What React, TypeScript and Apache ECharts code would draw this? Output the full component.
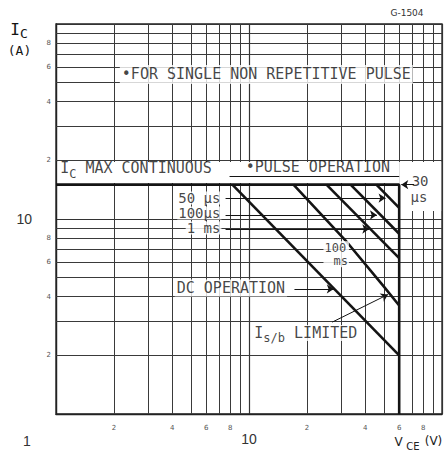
import React, { useEffect, useRef } from "react";
import * as echarts from "echarts";

// Minor grid steps inside each decade and the digits printed beside them
const DECADE_STEPS = [2, 3, 4, 5, 6, 7, 8, 9, 20, 30, 40, 50, 60, 70, 80, 90];
const STEP_LABELS: Record<number, string> = { 2: "2", 4: "4", 6: "6", 8: "8", 20: "2", 40: "4", 60: "6", 80: "8" };

// Safe operating area limits, points are [VCE (V), IC (A)]
const boundary = [[1, 15], [60, 15], [60, 1]];
const dcOperation = [[8.2, 15], [60, 2]];
const pulse100ms = [[17, 15], [31.5, 7.8], [50, 4.5], [60, 3.6]];
const pulse1ms = [[25.2, 15], [60, 6.3]];
const pulse100us = [[33.6, 15], [60, 8.4]];
const pulse50us = [[45.7, 15], [60, 11.4]];

const MONO = '"DejaVu Sans Mono", monospace';
const SANS = '"DejaVu Sans", sans-serif';
const INK = "#141414";

function buildOption() {
  const gridMarks = [
    ...DECADE_STEPS.map((v) => ({
      xAxis: v,
      label: { show: !!STEP_LABELS[v], formatter: STEP_LABELS[v] || "", distance: 10 },
    })),
    ...DECADE_STEPS.map((v) => ({
      yAxis: v,
      label: { show: !!STEP_LABELS[v], formatter: STEP_LABELS[v] || "", distance: 5 },
    })),
  ];

  const curve = (name: string, data: number[][]) => ({
    name,
    type: "line",
    data,
    symbol: "none",
    silent: true,
    z: 3,
    lineStyle: { color: INK, width: 2.6 },
  });

  const rich = {
    t: { fontFamily: MONO, fontSize: 15, color: INK, lineHeight: 16, verticalAlign: "top" },
    s: { fontFamily: MONO, fontSize: 12, color: INK, lineHeight: 12, padding: [7, 0, 0, 0], verticalAlign: "top" },
    n: { fontFamily: MONO, fontSize: 12, color: INK, lineHeight: 13, align: "left" },
    m: { fontFamily: MONO, fontSize: 12, color: INK, lineHeight: 13, align: "left", padding: [0, 0, 0, 9] },
  };

  const note = (value: number[], text: string, position: string, extra: any = {}) => ({
    value,
    label: {
      show: true,
      position,
      distance: 0,
      formatter: text,
      ...extra,
    },
  });

  const small = { fontSize: 14, lineHeight: 13, backgroundColor: "#fff", padding: [0, 1] };

  const notes = [
    note([2.14, 55.1], "•FOR SINGLE NON REPETITIVE PULSE", "right", { backgroundColor: "#fff", padding: [2, 2] }),
    note([1.05, 18.05], "{t|I}{s|C}{t| MAX CONTINUOUS}", "right"),
    note([9.6, 18.5], "•PULSE OPERATION", "right"),
    note([7.2, 12.8], "50 µs", "left", small),
    note([7.2, 10.74], "100µs", "left", small),
    note([7.2, 8.99], "1 ms", "left", small),
    note([28.3, 6.6], "{n|100}\n{m|ms}", "inside", { backgroundColor: "#fff", padding: [0, 1] }),
    note([4.12, 4.43], "DC OPERATION", "right", { backgroundColor: "#fff", padding: [1, 2] }),
    note([10.4, 2.6], "{t|I}{s|s/b}{t| LIMITED}", "right", { backgroundColor: "#fff", padding: [0, 2] }),
    note([77, 15.6], "30", "inside", { fontSize: 14, lineHeight: 13 }),
    note([76, 12.97], "µs", "inside", { fontSize: 14, lineHeight: 13 }),
  ];

  const leaders = [
    [{ coord: [7.56, 12.8] }, { coord: [51, 12.8] }],
    [{ coord: [7.56, 10.48] }, { coord: [46, 10.48] }],
    [{ coord: [7.56, 8.89] }, { coord: [42, 8.89] }],
    [{ coord: [17.2, 4.38] }, { coord: [27.5, 4.38] }],
    [{ coord: [27, 2.96] }, { coord: [52.5, 4.1] }],
    [{ coord: [71.7, 15] }, { coord: [61.5, 15] }],
  ];

  return {
    animation: false,
    backgroundColor: "#fff",
    grid: { left: 56, right: 2, top: 24, bottom: 36, show: true, borderColor: "#222", borderWidth: 1.3 },
    xAxis: {
      type: "log",
      logBase: 10,
      min: 1,
      max: 100,
      axisLine: { show: true, onZero: false, lineStyle: { color: "#222", width: 1.3 } },
      axisTick: { show: false },
      splitLine: { show: true, lineStyle: { color: "#333", width: 1.2 } },
      axisLabel: {
        margin: 18,
        fontFamily: '"Liberation Sans", sans-serif',
        fontSize: 14,
        color: "#333",
        formatter: (v: number) => {
          const r = Math.round(v);
          if (r === 1) return "{o|1}";
          if (r === 10) return "10";
          return "";
        },
        rich: { o: { fontFamily: '"Liberation Sans", sans-serif', fontSize: 14, color: "#333", padding: [2, 58, 0, 0] } },
      },
    },
    yAxis: {
      type: "log",
      logBase: 10,
      min: 1,
      max: 100,
      axisLine: { show: true, onZero: false, lineStyle: { color: "#222", width: 1.3 } },
      axisTick: { show: false },
      splitLine: { show: true, lineStyle: { color: "#333", width: 1.2 } },
      axisLabel: {
        margin: 24,
        fontFamily: '"Liberation Sans", sans-serif',
        fontSize: 14,
        color: "#333",
        formatter: (v: number) => (Math.round(v) === 10 ? "10" : ""),
      },
    },
    graphic: [
      { type: "text", x: 15, y: 29, style: { text: "I", fontFamily: MONO, fontSize: 16, fill: INK, align: "center", verticalAlign: "middle" } },
      { type: "text", x: 24, y: 33, style: { text: "C", fontFamily: MONO, fontSize: 13, fill: INK, align: "center", verticalAlign: "middle" } },
      { type: "text", x: 19.5, y: 50, style: { text: "(A)", fontFamily: MONO, fontSize: 13, fill: INK, align: "center", verticalAlign: "middle" } },
      { type: "text", x: 398.5, y: 442, style: { text: "V", fontFamily: SANS, fontSize: 12, fill: "#222", align: "center", verticalAlign: "middle" } },
      { type: "text", x: 413, y: 446, style: { text: "CE", fontFamily: SANS, fontSize: 10, fill: "#222", align: "center", verticalAlign: "middle" } },
      { type: "text", x: 433.5, y: 441, style: { text: "(V)", fontFamily: SANS, fontSize: 12, fill: "#222", align: "center", verticalAlign: "middle" } },
      { type: "text", x: 407, y: 12.5, style: { text: "G-1504", fontFamily: SANS, fontSize: 9, fill: "#333", align: "center", verticalAlign: "middle" } },
    ],
    series: [
      {
        name: "grid",
        type: "line",
        data: [[1, 1]],
        symbol: "none",
        silent: true,
        z: 1,
        lineStyle: { opacity: 0 },
        markLine: {
          silent: true,
          z: 1,
          symbol: "none",
          animation: false,
          lineStyle: { color: "#3a3a3a", width: 1, type: "solid" },
          label: { position: "start", fontSize: 7, color: "#555", fontFamily: SANS },
          emphasis: { disabled: true },
          data: gridMarks,
        },
      },
      {
        name: "mask",
        type: "line",
        data: [[1, 1]],
        symbol: "none",
        silent: true,
        z: 2,
        lineStyle: { opacity: 0 },
        markArea: {
          silent: true,
          z: 2,
          itemStyle: { color: "#fff", borderWidth: 0 },
          emphasis: { disabled: true },
          data: [
            [{ coord: [1.02, 15.3] }, { coord: [60, 19.6] }],
            [{ coord: [60, 11] }, { coord: [99, 19.6] }],
          ],
        },
      },
      curve("boundary", boundary),
      curve("DC", dcOperation),
      curve("100 ms", pulse100ms),
      curve("1 ms", pulse1ms),
      curve("100 µs", pulse100us),
      curve("50 µs", pulse50us),
      {
        name: "notes",
        type: "scatter",
        symbolSize: 0.1,
        silent: true,
        z: 5,
        itemStyle: { color: "rgba(0,0,0,0)" },
        label: { fontFamily: MONO, fontSize: 15, color: INK, rich },
        data: notes,
        markLine: {
          silent: true,
          z: 4,
          symbol: ["none", "arrow"],
          symbolSize: 7,
          animation: false,
          label: { show: false },
          lineStyle: { color: INK, width: 1, type: "solid" },
          emphasis: { disabled: true },
          data: [
            ...leaders,
            [
              { coord: [7.93, 16.6], symbol: "none" },
              { coord: [60, 16.6], symbol: "none" },
            ],
          ],
        },
      },
    ],
  };
}

export default function App() {
  const ref = useRef<HTMLDivElement>(null);
  useEffect(() => {
    const chart = echarts.init(ref.current!, null, { renderer: "svg" });
    chart.setOption(buildOption() as any);
    return () => chart.dispose();
  }, []);
  return (
    <div
      ref={ref}
      style={{ position: "fixed", left: 0, top: 0, width: 445, height: 450, background: "#fff" }}
    />
  );
}
